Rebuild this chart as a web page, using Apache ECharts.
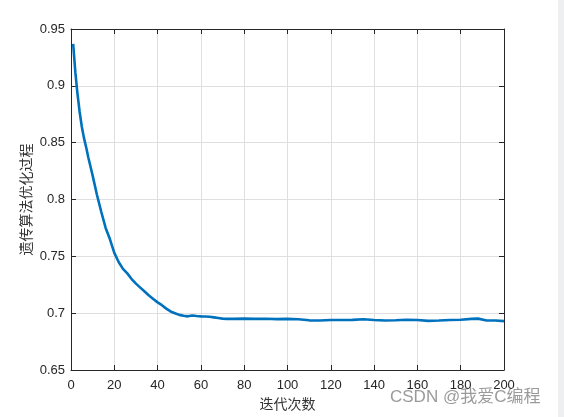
<!DOCTYPE html>
<html>
<head>
<meta charset="utf-8">
<script src="https://cdn.jsdelivr.net/npm/echarts@6/dist/echarts.min.js"></script>
<style>
  html, body { margin: 0; padding: 0; background: #fff; }
  #chart { width: 564px; height: 417px; }
</style>
</head>
<body>
<div id="chart"></div>
<script>
// 迭代次数 与 对应的优化值
var iters = [1, 2, 3, 4, 5, 6, 7, 8, 9, 10, 12, 14, 16, 18, 20, 22, 24, 26, 28, 30,
  32, 34, 36, 38, 40, 42, 44, 46, 48, 50, 52, 54, 56, 58, 60, 62, 64, 66, 68, 70,
  72, 75, 80, 85, 90, 95, 100, 105, 110, 115, 120, 125, 130, 135, 140, 145, 150,
  155, 160, 165, 170, 175, 180, 185, 188, 192, 196, 200];
var fitness = [0.937, 0.912, 0.893, 0.877, 0.864, 0.854, 0.846, 0.837, 0.829, 0.821,
  0.804, 0.789, 0.775, 0.765, 0.753, 0.745, 0.739, 0.735, 0.730, 0.726,
  0.7225, 0.719, 0.7155, 0.7125, 0.7095, 0.707, 0.704, 0.7015, 0.700, 0.6985,
  0.6978, 0.6972, 0.6980, 0.6975, 0.6972, 0.6970, 0.6968, 0.6963, 0.6958, 0.6952,
  0.6950, 0.6950, 0.6952, 0.6950, 0.6951, 0.6948, 0.6950, 0.6947, 0.6937, 0.6935,
  0.6940, 0.6940, 0.6941, 0.6946, 0.6940, 0.6935, 0.6938, 0.6942, 0.6940, 0.6932,
  0.6935, 0.6940, 0.6942, 0.6950, 0.6952, 0.6936, 0.6935, 0.6930];
var xTicks = [0, 200, 20];
var yTicks = [0.65, 0.95, 0.05];

var lineData = iters.map(function (v, i) { return [v, fitness[i]]; });

var axisColor = '#262626';
var gridColor = '#dfdfdf';
var labelFont = 'Liberation Sans, Arial, sans-serif';
var cjkFont = 'Noto Sans CJK SC, sans-serif';

var myChart = echarts.init(document.getElementById('chart'));
myChart.setOption({
  animation: false,
  backgroundColor: '#fff',
  grid: { left: 71, right: 60, top: 29, bottom: 47 },
  xAxis: [{
    type: 'value',
    min: xTicks[0], max: xTicks[1], interval: xTicks[2],
    name: '迭代次数',
    nameLocation: 'middle',
    nameGap: 27,
    nameMoveOverlap: false,
    nameTextStyle: { fontFamily: cjkFont, fontSize: 14, color: '#333', verticalAlign: 'top' },
    axisLine: { onZero: false, lineStyle: { color: axisColor, width: 1 } },
    axisTick: { inside: true, length: 5, lineStyle: { color: axisColor } },
    axisLabel: { margin: 9, fontFamily: labelFont, fontSize: 13, color: axisColor },
    splitLine: { show: true, lineStyle: { color: gridColor, width: 1 } }
  }, {
    type: 'value', position: 'top',
    min: xTicks[0], max: xTicks[1], interval: xTicks[2],
    axisLine: { onZero: false, lineStyle: { color: axisColor, width: 1 } },
    axisTick: { inside: true, length: 5, lineStyle: { color: axisColor } },
    axisLabel: { show: false },
    splitLine: { show: false }
  }],
  yAxis: [{
    type: 'value',
    min: yTicks[0], max: yTicks[1], interval: yTicks[2],
    name: '遗传算法优化过程',
    nameLocation: 'middle',
    nameGap: 38,
    nameMoveOverlap: false,
    nameTextStyle: { fontFamily: cjkFont, fontSize: 14, color: '#333' },
    axisLine: { show: true, onZero: false, lineStyle: { color: axisColor, width: 1 } },
    axisTick: { show: true, inside: true, length: 5, lineStyle: { color: axisColor } },
    axisLabel: {
      margin: 6, fontFamily: labelFont, fontSize: 13, color: axisColor,
      formatter: function (v) { return String(+v.toFixed(2)); }
    },
    splitLine: { show: true, lineStyle: { color: gridColor, width: 1 } }
  }, {
    type: 'value', position: 'right',
    min: yTicks[0], max: yTicks[1], interval: yTicks[2],
    axisLine: { show: true, onZero: false, lineStyle: { color: axisColor, width: 1 } },
    axisTick: { show: true, inside: true, length: 5, lineStyle: { color: axisColor } },
    axisLabel: { show: false },
    splitLine: { show: false }
  }],
  graphic: [{
    type: 'rect', left: 558, top: 0, z: -1,
    shape: { width: 6, height: 417 },
    style: { fill: '#eeeff1' }
  }, {
    type: 'text', left: 390, top: 389, z: 0,
    style: {
      text: 'CSDN @我爱C编程',
      font: '17px "Liberation Sans", "Noto Sans CJK SC", sans-serif',
      fill: 'rgba(120,120,120,0.75)'
    }
  }],
  series: [{
    name: '优化过程',
    type: 'line',
    data: lineData,
    showSymbol: false,
    smooth: false,
    lineStyle: { color: '#0072BD', width: 2.6 },
    itemStyle: { color: '#0072BD' },
    z: 3
  }]
});
</script>
</body>
</html>
